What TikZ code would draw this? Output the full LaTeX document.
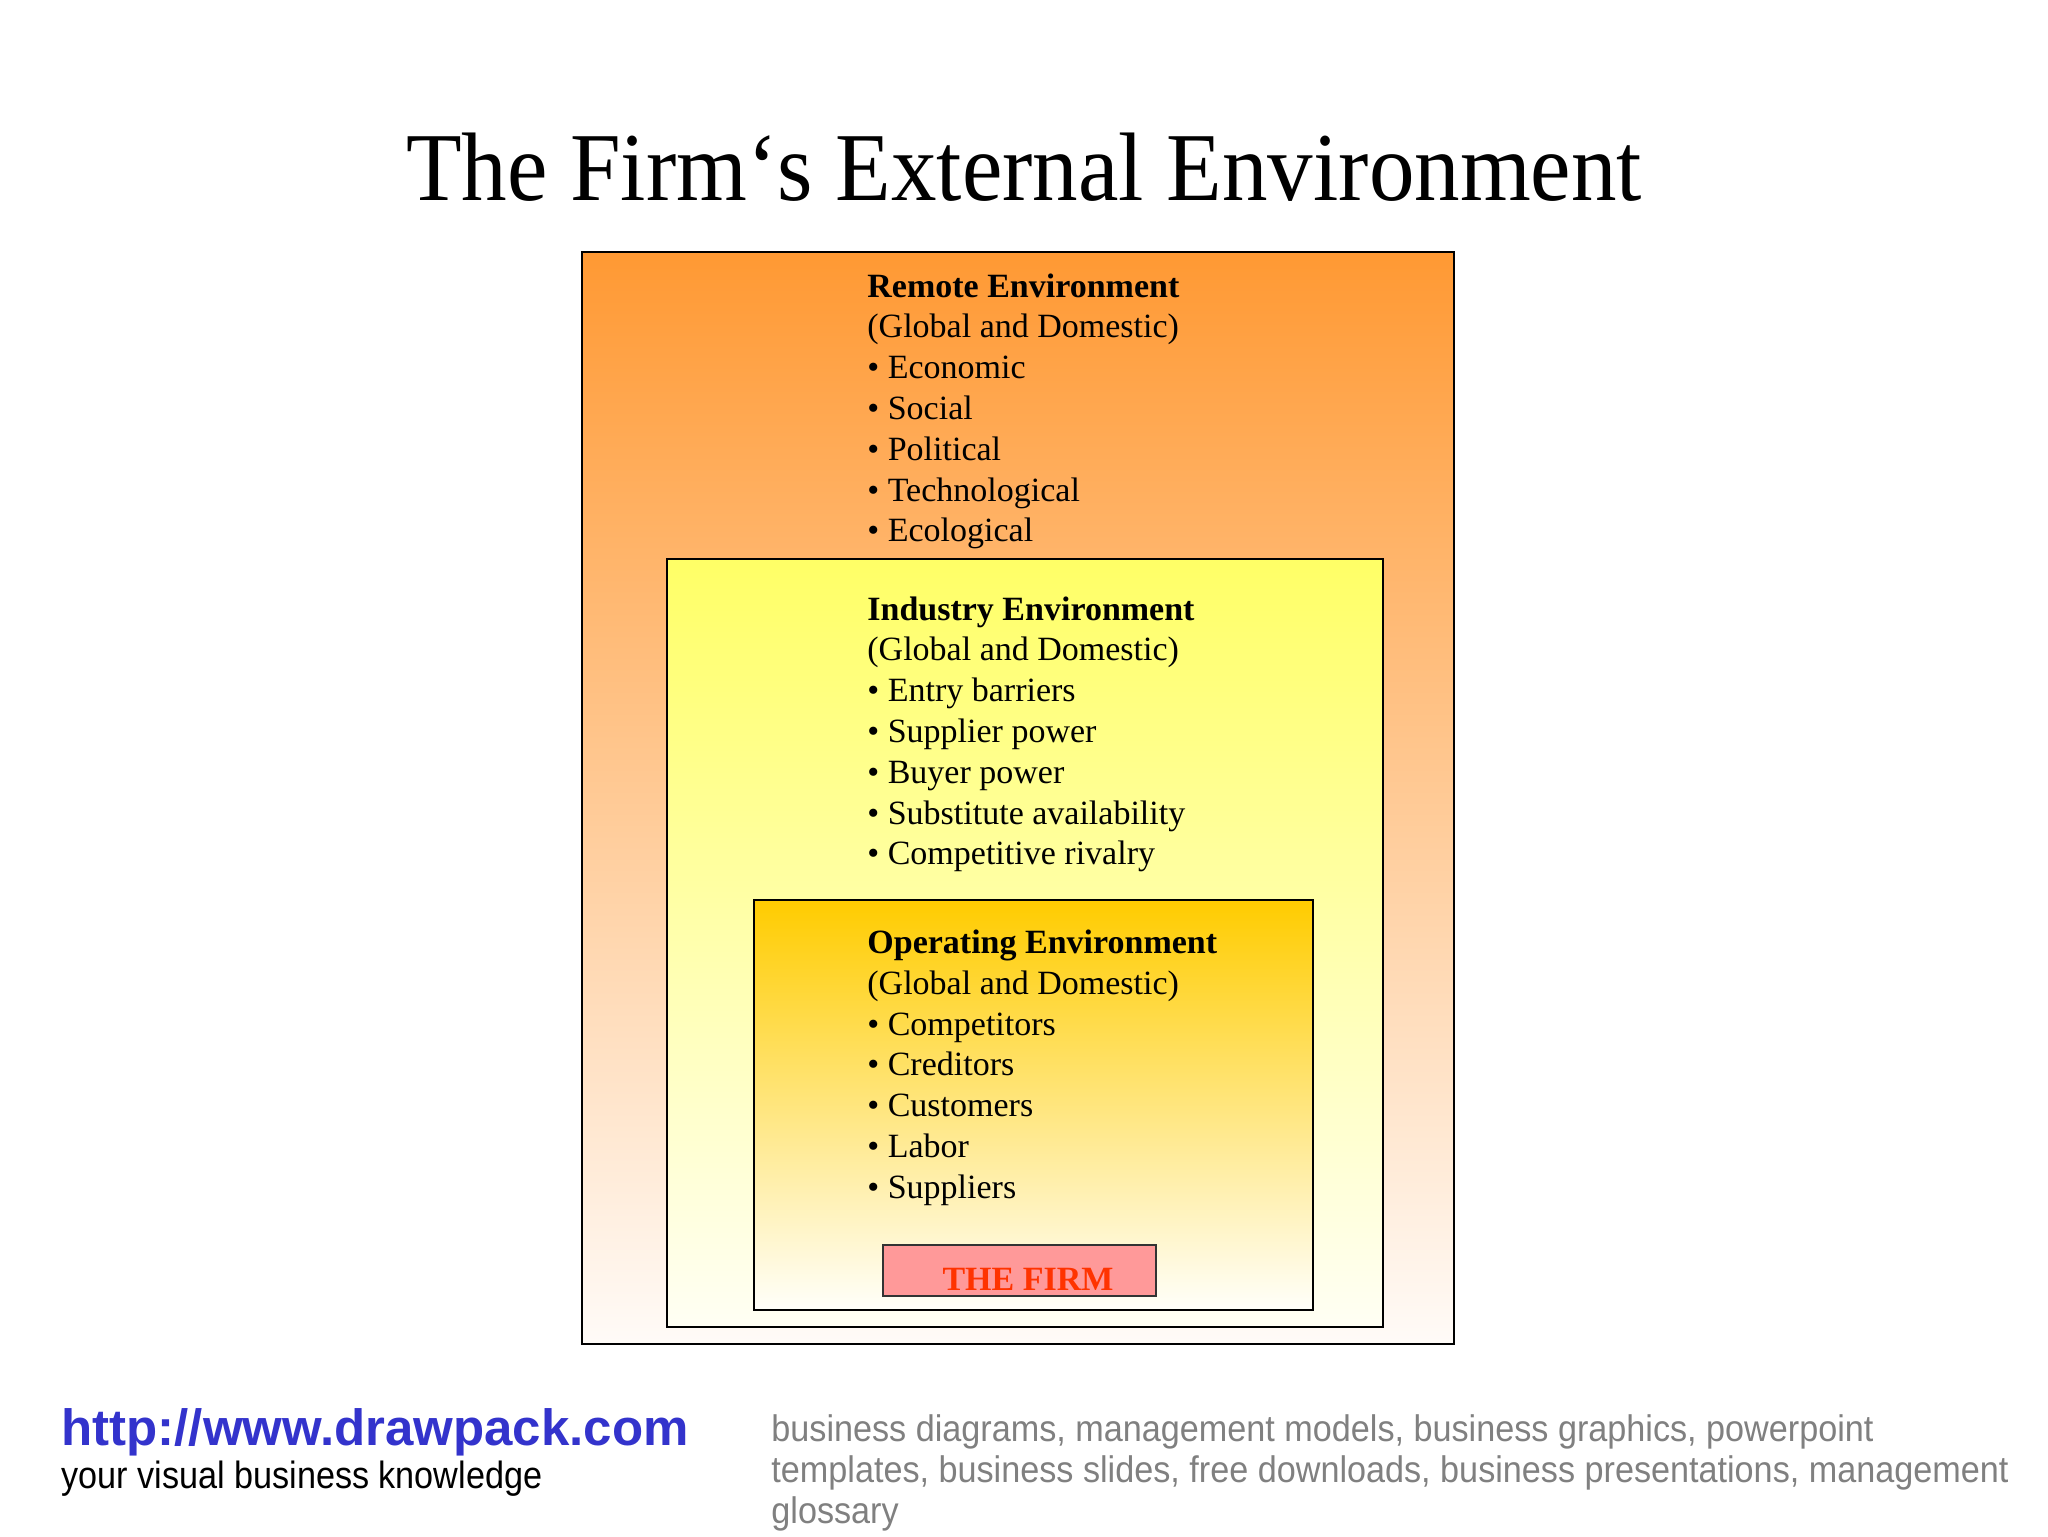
\documentclass[tikz,border=0pt]{standalone}
\usepackage{fontspec}
\setmainfont{Liberation Serif}
\newfontfamily\arialf{Liberation Sans}
\definecolor{remTop}{HTML}{FF9933}
\definecolor{remBot}{HTML}{FFFBF8}
\definecolor{indTop}{HTML}{FFFF66}
\definecolor{indBot}{HTML}{FFFFF4}
\definecolor{opTop}{HTML}{FFCC00}
\definecolor{opBot}{HTML}{FFFFFA}
\definecolor{firmFill}{HTML}{FF9999}
\definecolor{firmText}{HTML}{FF3300}
\definecolor{urlBlue}{HTML}{3333CC}
\definecolor{footGrey}{HTML}{808080}
\tikzset{
  envbox/.style={draw=black, line width=1pt},
  txt/.style={anchor=base west, inner sep=0pt, font=\fontsize{17}{20}\selectfont},
  foot/.style={anchor=base west, inner sep=0pt},
  greyfoot/.style={foot, font=\arialf\fontsize{18.5}{22}\selectfont, text=footGrey},
}
\begin{document}
\begin{tikzpicture}[x=0.5pt, y=-0.5pt]
\useasboundingbox[fill=white] (0,0) rectangle (2048,1536);
% title
\node[anchor=base, inner sep=0pt, font=\fontsize{45.5}{50}\selectfont] (title) at (1024,200)
  {\scalebox{1}[1.07]{The Firm‘s External Environment}};
% boxes
\shade[envbox, top color=remTop, bottom color=remBot] (582,252) rectangle (1454,1344);
\shade[envbox, top color=indTop, bottom color=indBot] (667,559) rectangle (1383,1327);
\shade[envbox, top color=opTop, bottom color=opBot] (754,900) rectangle (1313,1310);
\node[draw=black!80, line width=0.8pt, fill=firmFill, minimum width=136.5pt, minimum height=25.5pt, inner sep=0pt] (firmbox) at (1019.5,1270.5) {};
\node[anchor=base, inner sep=0pt, font=\fontsize{17}{20}\selectfont\bfseries, text=firmText] (firm) at (1028,1290) {THE FIRM};
% remote
\foreach [count=\i] \t in {{\textbf{Remote Environment}},{(Global and Domestic)},{\textbullet\ Economic},{\textbullet\ Social},{\textbullet\ Political},{\textbullet\ Technological},{\textbullet\ Ecological}}
  \node[txt] (rem\i) at (867,{297+(\i-1)*40.8}) {\t};
% industry
\foreach [count=\i] \t in {{\textbf{Industry Environment}},{(Global and Domestic)},{\textbullet\ Entry barriers},{\textbullet\ Supplier power},{\textbullet\ Buyer power},{\textbullet\ Substitute availability},{\textbullet\ Competitive rivalry}}
  \node[txt] (ind\i) at (867,{620+(\i-1)*40.8}) {\t};
% operating
\foreach [count=\i] \t in {{\textbf{Operating Environment}},{(Global and Domestic)},{\textbullet\ Competitors},{\textbullet\ Creditors},{\textbullet\ Customers},{\textbullet\ Labor},{\textbullet\ Suppliers}}
  \node[txt] (op\i) at (867,{953.5+(\i-1)*40.8}) {\t};
% footer
\node[foot, font=\arialf\bfseries\fontsize{25.5}{30}\selectfont, text=urlBlue] (url) at (61,1445) {http://www.drawpack.com};
\node[foot, font=\arialf\fontsize{19}{22}\selectfont, text=black] (tag) at (61,1488) {\scalebox{0.9}[1]{your visual business knowledge}};
\node[greyfoot] (g1) at (771,1441) {\scalebox{0.924}[1]{business diagrams, management models, business graphics, powerpoint}};
\node[greyfoot] (g2) at (771,1482) {\scalebox{0.924}[1]{templates, business slides, free downloads, business presentations, management}};
\node[greyfoot] (g3) at (771,1523) {\scalebox{0.924}[1]{glossary}};
\end{tikzpicture}
\end{document}
